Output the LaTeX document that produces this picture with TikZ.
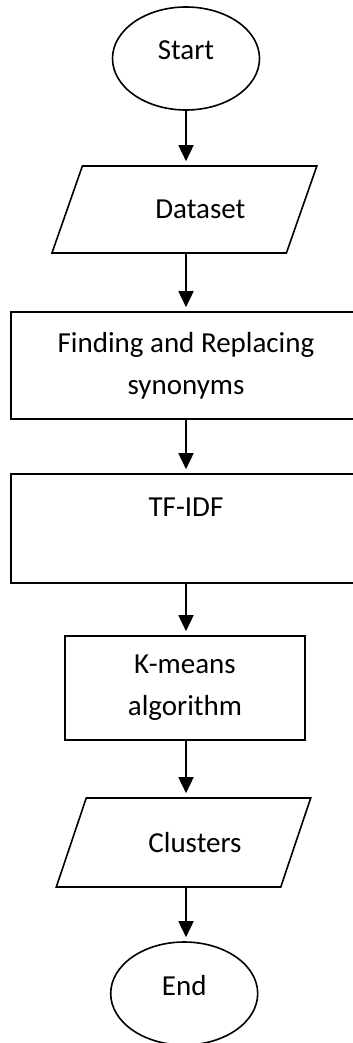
\documentclass[tikz,border=0pt]{standalone}
\usepackage{fontspec}
\setmainfont{Carlito}
\usepackage{tikz}
\usetikzlibrary{shapes.geometric, arrows.meta}

\begin{document}
\begin{tikzpicture}[x=1pt, y=-1pt,
    every node/.style={font=\fontsize{29}{42}\selectfont, line width=1.6pt},
    term/.style={draw, ellipse, minimum width=147pt, minimum height=103pt, text depth=16pt},
    io/.style={draw, trapezium, trapezium stretches=true},
    process/.style={draw, rectangle, align=center},
    flow/.style={-{Triangle[width=15pt,length=16pt]}, line width=1.6pt, shorten >=4pt}]
    \useasboundingbox (0,0) rectangle (353,1043);
    \node[term] (start) at (186, 58.5) {Start};
    \node[io, trapezium left angle=53, trapezium right angle=127, minimum width=265pt, minimum height=87pt] (data) at (184.4, 209.5) {\hspace*{32pt}Dataset};
    \node[process, minimum width=350pt, minimum height=107pt] (syn) at (186, 365.5) {Finding and Replacing\\synonyms};
    \node[process, minimum width=350pt, minimum height=109pt] (tfidf) at (186, 528.5) {TF-IDF\\~};
    \node[process, minimum width=240pt, minimum height=104pt] (kmeans) at (185, 688) {K-means\\algorithm};
    \node[io, trapezium left angle=55, trapezium right angle=125, minimum width=255pt, minimum height=89pt] (clusters) at (183.5, 842.5) {\hspace*{23pt}Clusters};
    \node[term] (end) at (184.2, 993.5) {End};
    \foreach \a/\b in {start/data, data/syn, syn/tfidf, tfidf/kmeans, kmeans/clusters, clusters/end}
        \draw[flow] (\a.south -| start) -- (\b.north -| start);
\end{tikzpicture}
\end{document}
